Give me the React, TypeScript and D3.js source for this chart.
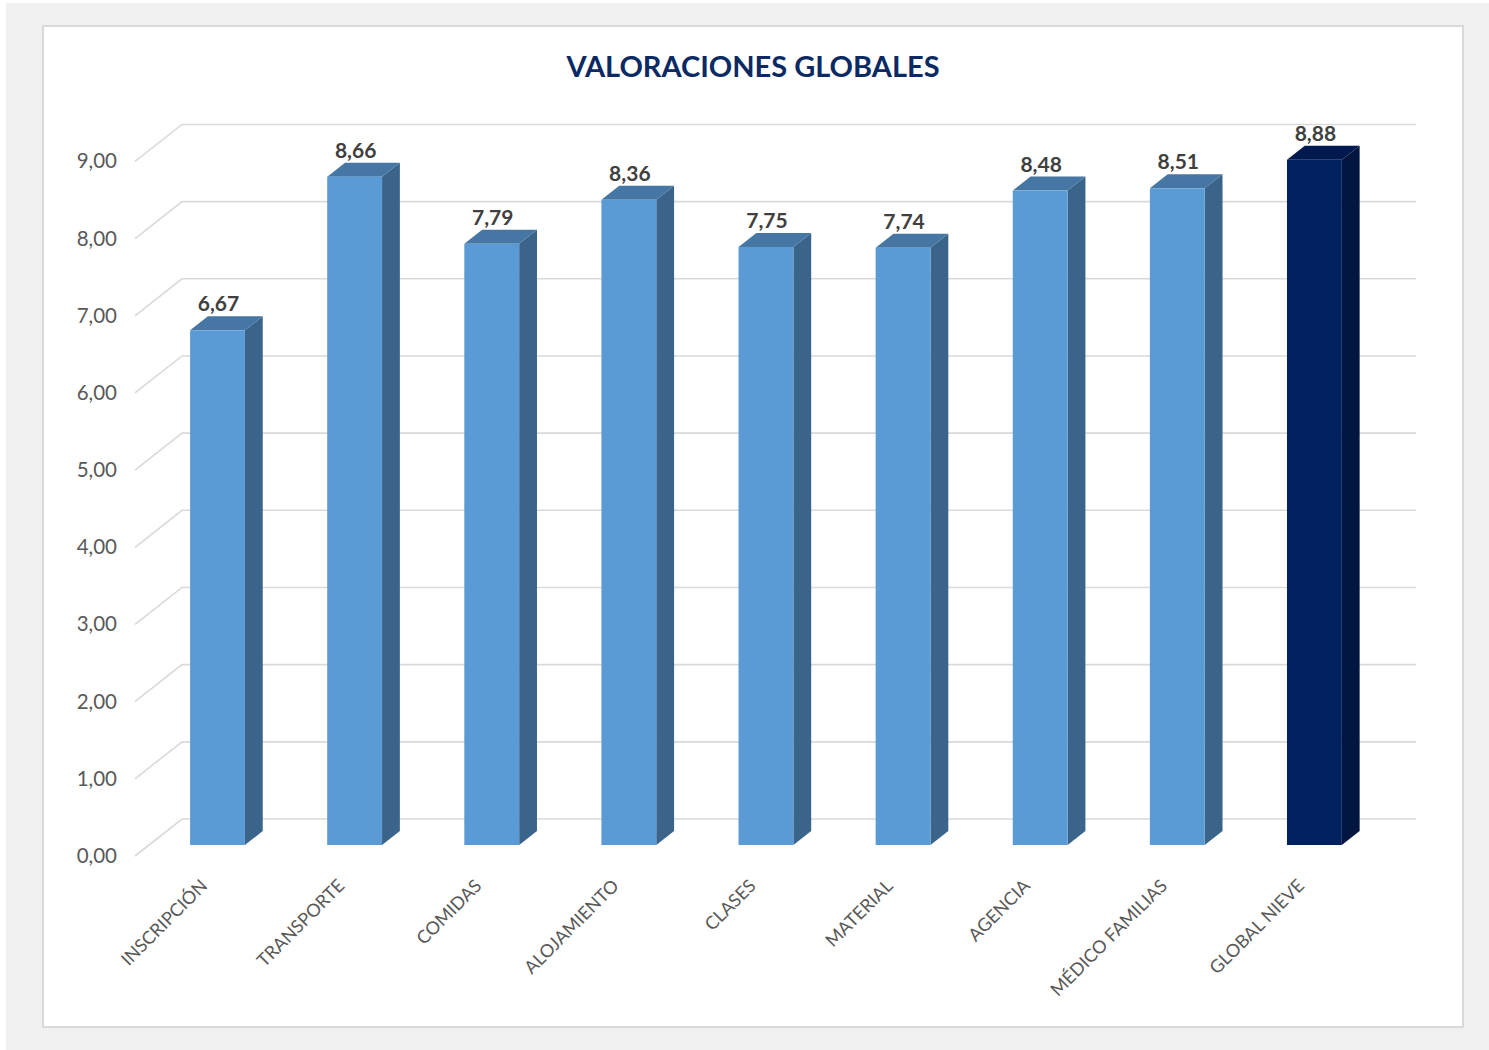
import React from "react";
import * as d3 from "d3";

const categories = ["INSCRIPCIÓN", "TRANSPORTE", "COMIDAS", "ALOJAMIENTO", "CLASES", "MATERIAL", "AGENCIA", "MÉDICO FAMILIAS", "GLOBAL NIEVE"];
const values = [6.67, 8.66, 7.79, 8.36, 7.75, 7.74, 8.48, 8.51, 8.88];
const highlighted = ["GLOBAL NIEVE"];
const yTicks = [0, 1, 2, 3, 4, 5, 6, 7, 8, 9];
const title = "VALORACIONES GLOBALES";

const W = 1489;
const H = 1050;
const FONT = "Lato, 'Open Sans', sans-serif";

export default function App() {
  const frontX0 = 135;
  const frontX1 = 1369;
  const depthX = 47;
  const depthY = -37;
  const f0 = 0.297;
  const f1 = 0.676;

  const y = d3.scaleLinear().domain([0, 9]).range([856, 856 - 9 * 77.17]);
  const x = d3.scaleBand<string>().domain(categories).range([frontX0, frontX1]).padding(0);
  const bw = x.bandwidth() * 0.4;
  const ddx = depthX * (f1 - f0);
  const ddy = depthY * (f1 - f0);
  const fmt = (v: number) => v.toFixed(2).replace(".", ",");

  return (
    <svg width={W} height={H} style={{ display: "block", position: "absolute", left: 0, top: 0 }}>
      <rect x={6} y={3} width={W - 6} height={H - 3} fill="#f0f0f0" />
      <rect x={43} y={26} width={1420} height={1001} fill="#ffffff" stroke="#d9d9d9" strokeWidth={2} />
      <text x={753} y={77} textAnchor="middle" fontFamily={FONT} fontWeight={700} fontSize={29} fill="#0b2a63">
        {title}
      </text>
      {yTicks.map((t) => {
        const yf = y(t);
        return (
          <g key={t}>
            <polyline
              points={`${frontX0},${yf} ${frontX0 + depthX},${yf + depthY} ${frontX1 + depthX},${yf + depthY}`}
              fill="none"
              stroke="#d9d9d9"
              strokeWidth={1.6}
            />
            <text x={117} y={yf + 7} textAnchor="end" fontFamily={FONT} fontSize={20.5} fill="#595959">
              {fmt(t)}
            </text>
          </g>
        );
      })}
      {categories.map((c, i) => {
        const v = values[i];
        const hi = highlighted.includes(c);
        const front = hi ? "#00205f" : "#5b9bd5";
        const top = hi ? "#001a4f" : "#4676a3";
        const side = hi ? "#001540" : "#3a6489";
        const cx = (x(c) as number) + x.bandwidth() / 2 + depthX * f0;
        const xl = cx - bw / 2;
        const xr = cx + bw / 2;
        const yt = y(v) + depthY * f0;
        const yb = y(0) + depthY * f0;
        return (
          <g key={c}>
            <polygon points={`${xr},${yt} ${xr + ddx},${yt + ddy} ${xr + ddx},${yb + ddy} ${xr},${yb}`} fill={side} />
            <polygon points={`${xl},${yt} ${xr},${yt} ${xr + ddx},${yt + ddy} ${xl + ddx},${yt + ddy}`} fill={top} />
            <rect x={xl} y={yt} width={bw} height={yb - yt} fill={front} />
            <text x={cx + 1} y={yt + ddy - 5} textAnchor="middle" fontFamily={FONT} fontWeight={700} fontSize={21} fill="#404040">
              {fmt(v)}
            </text>
            <text
              transform={`translate(${cx - 9},${887}) rotate(-45)`}
              textAnchor="end"
              fontFamily={FONT}
              fontSize={18}
              fill="#595959"
            >
              {c}
            </text>
          </g>
        );
      })}
    </svg>
  );
}
